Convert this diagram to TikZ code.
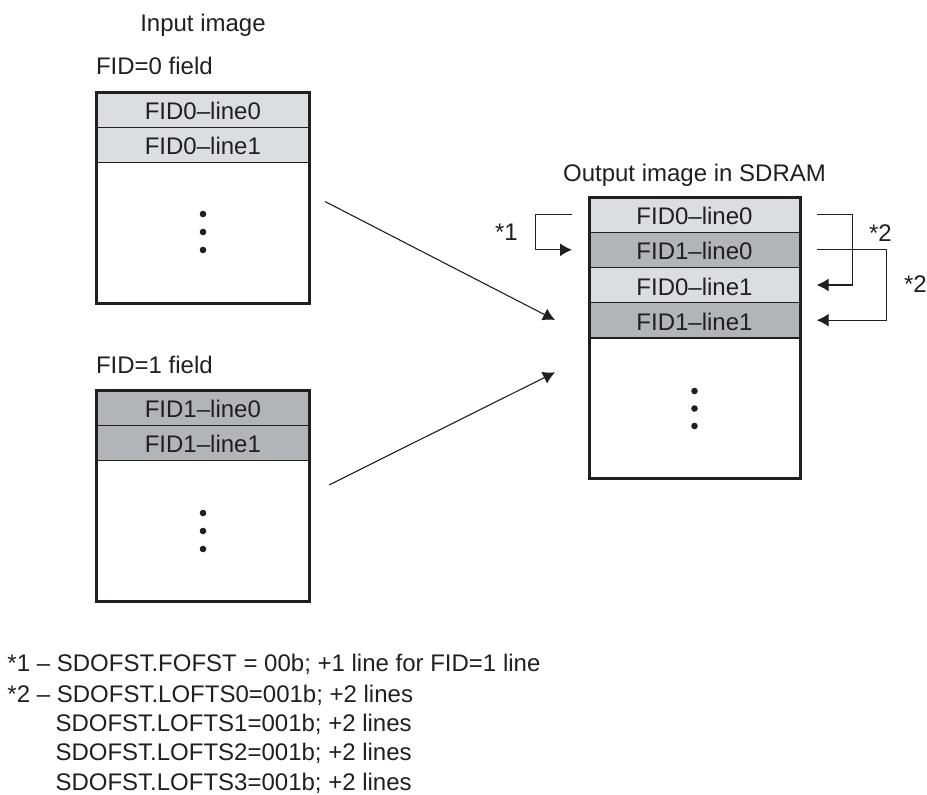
\documentclass[tikz,border=0pt]{standalone}
\usepackage{fontspec}
\setmainfont{Liberation Sans}
\usetikzlibrary{arrows.meta}
\definecolor{ink}{HTML}{231F20}
\definecolor{lightrow}{HTML}{DCDDDF}
\definecolor{darkrow}{HTML}{B2B4B7}
\begin{document}
\begin{tikzpicture}[x=1pt,y=-1pt,
  every node/.style={font=\fontsize{24}{28}\selectfont, text=ink, inner sep=0pt, outer sep=0pt},
  rowcell/.style={draw=ink, line width=1.4pt, minimum height=35.3pt, text height=20pt, text depth=0pt, anchor=north},
  lrow/.style={rowcell, fill=lightrow},
  drow/.style={rowcell, fill=darkrow},
  frame/.style={draw=ink, line width=3pt, anchor=north west},
  lab/.style={anchor=base west},
  conn/.style={draw=ink, line width=1.1pt, -{Latex[length=12pt,width=13pt]}},
]
\fill[white] (0,0) rectangle (927,795);
\useasboundingbox (0,0) rectangle (927,795);

% titles
\node[anchor=base] (inp) at (203,31) {Input image};
\node[lab] (f0) at (96,74) {FID=0 field};
\node[lab] (f1) at (96,373.3) {FID=1 field};
\node[anchor=base] (out) at (694.5,181.7) {Output image in SDRAM};

% FID=0 field box
\node[lrow, minimum width=212.3pt] (a0) at (202.85,92) {FID0–line0};
\node[lrow, minimum width=212.3pt] (a1) at (a0.south) {FID0–line1};
\node[frame, minimum width=212.3pt, minimum height=211pt] (boxA) at (96.7,92) {};
\fill[ink] (203,214) circle (3.3pt);
\fill[ink] (203,232) circle (3.3pt);
\fill[ink] (203,250) circle (3.3pt);

% FID=1 field box
\node[drow, minimum width=212.3pt] (b0) at (202.85,390) {FID1–line0};
\node[drow, minimum width=212.3pt] (b1) at (b0.south) {FID1–line1};
\node[frame, minimum width=212.3pt, minimum height=211.7pt] (boxB) at (96.7,390) {};
\fill[ink] (203,513) circle (3.3pt);
\fill[ink] (203,531) circle (3.3pt);
\fill[ink] (203,549) circle (3.3pt);

% output box
\node[lrow, minimum width=211pt, minimum height=35.2pt] (r0) at (694.5,197) {FID0–line0};
\node[drow, minimum width=211pt, minimum height=35.2pt] (r1) at (r0.south) {FID1–line0};
\node[lrow, minimum width=211pt, minimum height=35.2pt] (r2) at (r1.south) {FID0–line1};
\node[drow, minimum width=211pt, minimum height=35.2pt] (r3) at (r2.south) {FID1–line1};
\node[frame, minimum width=211pt, minimum height=281.3pt] (boxR) at (589,197) {};
\fill[ink] (694.5,391) circle (3.3pt);
\fill[ink] (694.5,408.5) circle (3.3pt);
\fill[ink] (694.5,426) circle (3.3pt);

% diagonal arrows
\coordinate (s0) at (325,201.5);
\coordinate (t0) at (555,320);
\coordinate (s1) at (329,485);
\coordinate (t1) at (555,372.3);
\draw[conn] (s0) -- (t0);
\draw[conn] (s1) -- (t1);

% *1 bracket
\draw[conn] ([xshift=-17.5pt]r0.west) -- ++(-36,0) |- ([xshift=-17pt]r1.west);
\node[lab] (k1) at (495,240.7) {*1};

% *2 brackets
\draw[conn] ([xshift=16.7pt]r0.east) -- ++(36,0) |- ([xshift=16.7pt]r2.east);
\draw[conn] ([xshift=16.7pt]r1.east) -- ++(70,0) |- ([xshift=16.7pt]r3.east);
\node[lab] (k2a) at (869,241) {*2};
\node[lab] (k2b) at (904,292.7) {*2};

% notes
\node[lab] (n1) at (7.5,671.7) {*1 – SDOFST.FOFST = 00b; +1 line for FID=1 line};
\node[lab] (n2) at (7.5,702.3) {*2 – SDOFST.LOFTS0=001b; +2 lines};
\node[lab] (n3) at (55.5,731) {SDOFST.LOFTS1=001b; +2 lines};
\node[lab] (n4) at (55.5,760) {SDOFST.LOFTS2=001b; +2 lines};
\node[lab] (n5) at (55.5,790) {SDOFST.LOFTS3=001b; +2 lines};
\end{tikzpicture}
\end{document}
